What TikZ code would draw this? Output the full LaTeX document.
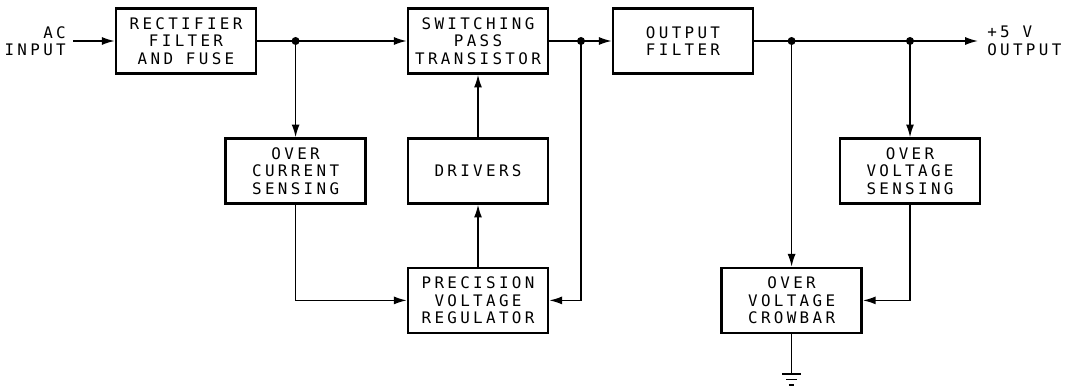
\documentclass[tikz,border=0pt]{standalone}
\usepackage{fontspec}
\setmonofont{DejaVu Sans Mono}[LetterSpace=21]
\usetikzlibrary{arrows.meta}
\tikzset{
  lbl/.style={inner sep=0pt, font=\ttfamily\fontsize{11.3}{12.4}\selectfont},
  blk/.style={lbl, draw, line width=1.8pt, minimum width=3.5cm, minimum height=1.62cm, align=center},
  wire/.style={line width=1.1pt},
  arr/.style={wire, -{Latex[length=0.32cm, width=0.2cm]}},
}

\begin{document}
\begin{tikzpicture}
\useasboundingbox (0,0) rectangle (26.625,9.7);
\node[blk] (rect) at (4.65,8.675) {RECTIFIER\\FILTER\\AND FUSE};
\node[blk] (sw) at (11.95,8.675) {SWITCHING\\PASS\\TRANSISTOR};
\node[blk] (of) at (17.075,8.675) {OUTPUT\\FILTER};
\node[blk] (oc) at (7.39,5.425) {OVER\\CURRENT\\SENSING};
\node[blk] (drv) at (11.95,5.425) {DRIVERS};
\node[blk] (ovs) at (22.75,5.425) {OVER\\VOLTAGE\\SENSING};
\node[blk] (prec) at (11.95,2.19) {PRECISION\\VOLTAGE\\REGULATOR};
\node[blk] (crow) at (19.79,2.19) {OVER\\VOLTAGE\\CROWBAR};
\node[lbl, anchor=east, align=right] (in) at (1.65,8.675) {AC\\INPUT};
\node[lbl, anchor=west, align=left] (out) at (24.675,8.675) {+5 V\\OUTPUT};
\coordinate (j1) at (oc.north |- rect.east);
\coordinate (j2) at (14.525,8.675);
\coordinate (j3) at (crow.north |- of.east);
\coordinate (j4) at (ovs.north |- of.east);
\coordinate (gnd) at ([yshift=-1cm]crow.south);
\draw[arr] ([xshift=0.175cm]in.east) -- (rect.west);
\draw[arr] (rect.east) -- (sw.west);
\draw[arr] (j1) -- (oc.north);
\draw[arr] (sw.east) -- (of.west);
\draw[arr] (of.east) -- ([xshift=-0.225cm]out.west);
\draw[arr] (j3) -- (crow.north);
\draw[arr] (j4) -- (ovs.north);
\draw[arr] (drv.north) -- (sw.south);
\draw[arr] (prec.north) -- (drv.south);
\draw[arr] (oc.south) |- (prec.west);
\draw[arr] (j2) |- (prec.east);
\draw[arr] (ovs.south) |- (crow.east);
\draw[wire] (crow.south) -- (gnd);
\draw[wire] ([xshift=-0.24cm]gnd) -- ([xshift=0.24cm]gnd)
  ([shift={(-0.14,-0.14)}]gnd) -- ([shift={(0.14,-0.14)}]gnd)
  ([shift={(-0.07,-0.28)}]gnd) -- ([shift={(0.07,-0.28)}]gnd);
\foreach \j in {j1,j2,j3,j4} \fill (\j) circle (0.1);
\end{tikzpicture}
\end{document}
